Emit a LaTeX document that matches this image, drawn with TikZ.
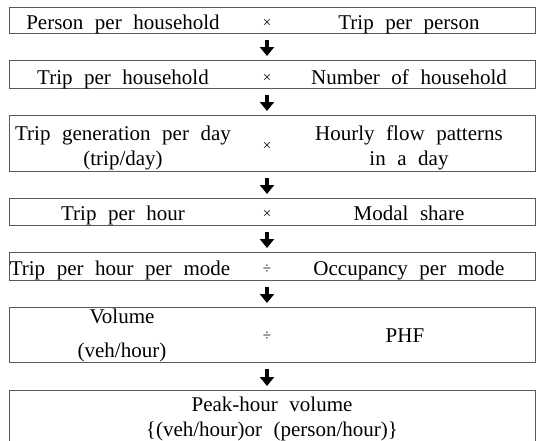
\documentclass[tikz,border=0pt]{standalone}
\usepackage{fontspec}
\setmainfont{Liberation Serif}[WordSpace=2.2]
\usetikzlibrary{arrows.meta}

\begin{document}
\begin{tikzpicture}[
  x=1pt, y=-1pt,
  stage/.style={draw=black!65, line width=1.2pt, minimum width=526pt, inner sep=0pt, anchor=north west},
  term/.style={font=\fontsize{21}{25}\selectfont, align=center, inner sep=0pt, anchor=base},
  oper/.style={font=\fontsize{15}{15}\selectfont, inner sep=0pt, anchor=base},
  arr/.style={-{Triangle[width=14pt,length=9pt]}, line width=4.5pt, shorten <=6pt, shorten >=4pt}
]
\useasboundingbox (0,0) rectangle (536,440);
% boxes
\node[stage, minimum height=26pt] (s1) at (9,7) {};
\node[stage, minimum height=28pt] (s2) at (9,60) {};
\node[stage, minimum height=56pt] (s3) at (9,115) {};
\node[stage, minimum height=27pt] (s4) at (9,198) {};
\node[stage, minimum height=28pt] (s5) at (9,252) {};
\node[stage, minimum height=55pt] (s6) at (9,307) {};
\node[stage, minimum height=56pt] (s7) at (9,390) {};
% texts (multi-line ones sit on the baseline of their last line)
\node[term] (l1) at (123,29) {Person per household};
\node[oper] (o1) at (267,27) {×};
\node[term] (r1) at (409,29) {Trip per person};
\node[term] (l2) at (123,84) {Trip per household};
\node[oper] (o2) at (267,82) {×};
\node[term] (r2) at (409,84) {Number of household};
\node[term] (l3) at (123,165) {Trip generation per day\\(trip/day)};
\node[oper] (o3) at (267,150) {×};
\node[term] (r3) at (409,165) {Hourly flow patterns\\in a day};
\node[term] (l4) at (123,220) {Trip per hour};
\node[oper] (o4) at (267,218) {×};
\node[term] (r4) at (409,220) {Modal share};
\node[term] (l5) at (120,275) {Trip per hour per mode};
\node[oper] (o5) at (267,273) {÷};
\node[term] (r5) at (409,275) {Occupancy per mode};
\node[term] (l6) at (122,357) {Volume\\[9pt](veh/hour)};
\node[oper] (o6) at (267,340) {÷};
\node[term] (r6) at (405,342) {PHF};
\node[term] (pk) at (272,436) {Peak-hour volume\\\{(veh/hour)or (person/hour)\}};
% arrows
\draw[arr] (o1 |- s1.south) -- (o1 |- s2.north);
\draw[arr] (o2 |- s2.south) -- (o2 |- s3.north);
\draw[arr] (o3 |- s3.south) -- (o3 |- s4.north);
\draw[arr] (o4 |- s4.south) -- (o4 |- s5.north);
\draw[arr] (o5 |- s5.south) -- (o5 |- s6.north);
\draw[arr] (o6 |- s6.south) -- (o6 |- s7.north);
\end{tikzpicture}
\end{document}
